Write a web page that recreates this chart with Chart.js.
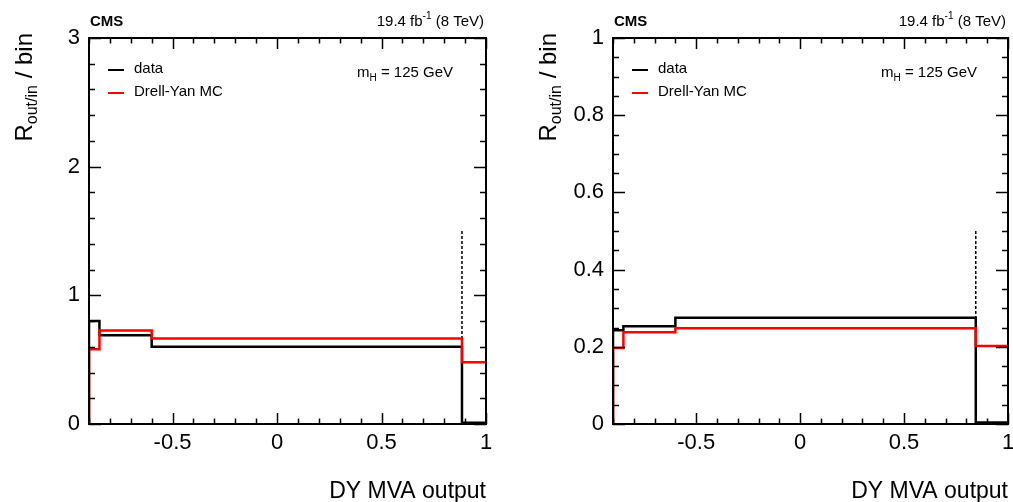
<!DOCTYPE html>
<html>
<head>
<meta charset="utf-8">
<script src="https://cdn.jsdelivr.net/npm/chart.js@4.4.1/dist/chart.umd.min.js"></script>
<style>
  body { margin: 0; background: #fff; }
  canvas { position: absolute; top: 0; }
</style>
</head>
<body>
<canvas id="left" width="506" height="502" style="left:0"></canvas>
<canvas id="right" width="507" height="502" style="left:506px"></canvas>
<script>
// bin edges and contents
var edgesLeft = [-0.9, -0.85, -0.6, 0.885, 1.0];
var dataLeft  = [0.80, 0.69, 0.60, 0.01];
var mcLeft    = [0.58, 0.727, 0.664, 0.48];

var edgesRight = [-0.9, -0.85, -0.6, 0.845, 1.0];
var dataRight  = [0.243, 0.253, 0.275, 0.004];
var mcRight    = [0.197, 0.238, 0.248, 0.202];

// dashed cut line: x position and height
var cutLeft  = [0.885, 1.5];
var cutRight = [0.845, 0.5];

var xTickLabels = [-0.5, 0, 0.5, 1];
var yRangeLeft  = [0, 3, 1];      // min, max, step
var yRangeRight = [0, 1, 0.2];

var FONT = "'Liberation Sans', Arial, Helvetica, sans-serif";
Chart.defaults.font.family = FONT;
Chart.defaults.color = '#000';

// histogram outline as step points
function steps(edges, vals) {
    var pts = [{ x: edges[0], y: 0 }];
    for (var i = 0; i < vals.length; i++) pts.push({ x: edges[i], y: vals[i] });
    pts.push({ x: edges[edges.length - 1], y: vals[vals.length - 1] });
    return pts;
}

// frame, inner ticks, legend and labels (ROOT look)
function deco(yMinorStep, yMajorStep) {
    return {
        id: 'deco',
        afterDraw: function (chart) {
            var c = chart.ctx, a = chart.chartArea;
            var xs = chart.scales.x, ys = chart.scales.y;
            c.save();
            c.strokeStyle = '#000';
            c.lineWidth = 1.5;
            c.beginPath();
            // x ticks every 0.1, major every 0.5
            for (var k = 0; k <= 19; k++) {
                var v = -0.9 + k * 0.1;
                var major = Math.abs(v * 2 - Math.round(v * 2)) < 1e-6;
                var L = major ? 11 : 5.5;
                var p = Math.round(xs.getPixelForValue(v)) + 0.5;
                c.moveTo(p, a.bottom); c.lineTo(p, a.bottom - L);
                c.moveTo(p, a.top); c.lineTo(p, a.top + L);
            }
            var n = Math.round((ys.max - ys.min) / yMinorStep);
            for (var j = 0; j <= n; j++) {
                var w = ys.min + j * yMinorStep;
                var r = w / yMajorStep;
                var maj = Math.abs(r - Math.round(r)) < 1e-6;
                var Ly = maj ? 12 : 6;
                var q = Math.round(ys.getPixelForValue(w)) + 0.5;
                c.moveTo(a.left, q); c.lineTo(a.left + Ly, q);
                c.moveTo(a.right, q); c.lineTo(a.right - Ly, q);
            }
            c.stroke();
            c.lineWidth = 2;
            c.strokeRect(a.left, a.top, a.right - a.left, a.bottom - a.top);

            c.fillStyle = '#000';
            c.textBaseline = 'alphabetic';
            // CMS label
            c.font = 'bold 15px ' + FONT;
            c.textAlign = 'left';
            c.fillText('CMS', a.left + 1, a.top - 12);
            // lumi label
            var t1 = '19.4 fb', t2 = '-1', t3 = ' (8 TeV)';
            c.font = '15px ' + FONT; var w1 = c.measureText(t1).width, w3 = c.measureText(t3).width;
            c.font = '10px ' + FONT; var w2 = c.measureText(t2).width;
            var x0 = a.right - 2 - w1 - w2 - w3;
            c.font = '15px ' + FONT; c.fillText(t1, x0, a.top - 12);
            c.font = '10px ' + FONT; c.fillText(t2, x0 + w1, a.top - 19);
            c.font = '15px ' + FONT; c.fillText(t3, x0 + w1 + w2, a.top - 12);

            // legend
            c.lineWidth = 2;
            c.strokeStyle = '#000';
            c.beginPath(); c.moveTo(a.left + 19, a.top + 32); c.lineTo(a.left + 35, a.top + 32); c.stroke();
            c.strokeStyle = '#ff0000';
            c.beginPath(); c.moveTo(a.left + 19, a.top + 55); c.lineTo(a.left + 35, a.top + 55); c.stroke();
            c.textBaseline = 'middle';
            c.font = '15px ' + FONT;
            c.fillText('data', a.left + 45, a.top + 31);
            c.fillText('Drell-Yan MC', a.left + 45, a.top + 54);

            // m_H label
            c.textBaseline = 'alphabetic';
            var mx = a.left + 268, my = a.top + 39;
            c.font = '15px ' + FONT; c.fillText('m', mx, my);
            var wm = c.measureText('m').width;
            c.font = '10px ' + FONT; c.fillText('H', mx + wm, my + 4);
            var wh = c.measureText('H').width;
            c.font = '15px ' + FONT; c.fillText(' = 125 GeV', mx + wm + wh, my);

            // y axis title, rotated
            c.translate(a.left - 57, a.top - 5);
            c.rotate(-Math.PI / 2);
            c.font = '24px ' + FONT; var wr = c.measureText('R').width, wb = c.measureText(' / bin').width;
            c.font = '16px ' + FONT; var ws = c.measureText('out/in').width;
            var sx = -(wr + ws + wb);
            c.font = '24px ' + FONT; c.fillText('R', sx, 0);
            c.font = '16px ' + FONT; c.fillText('out/in', sx + wr, 5);
            c.font = '24px ' + FONT; c.fillText(' / bin', sx + wr + ws, 0);
            c.restore();
        }
    };
}

function makeChart(id, edges, dataVals, mcVals, cut, yRange, yMinorStep, yAxisWidth, padRight) {
    return new Chart(document.getElementById(id).getContext('2d'), {
        type: 'scatter',
        data: {
            datasets: [{
                label: 'Drell-Yan MC',
                data: steps(edges, mcVals),
                showLine: true, stepped: 'before',
                borderColor: '#ff0000', borderWidth: 2.5,
                pointRadius: 0, order: 1
            }, {
                label: 'data',
                data: steps(edges, dataVals),
                showLine: true, stepped: 'before',
                borderColor: '#000', borderWidth: 2.5,
                pointRadius: 0, order: 2
            }, {
                label: 'cut',
                data: [{ x: cut[0], y: 0 }, { x: cut[0], y: cut[1] }],
                showLine: true,
                borderColor: '#000', borderWidth: 1.5, borderDash: [3, 2],
                pointRadius: 0, order: 3
            }]
        },
        options: {
            responsive: false,
            animation: false,
            devicePixelRatio: 1,
            layout: { padding: { top: 38, right: padRight, left: 0, bottom: 0 } },
            plugins: { legend: { display: false }, tooltip: { enabled: false } },
            scales: {
                x: {
                    type: 'linear', min: -0.9, max: 1,
                    grid: { display: false, drawTicks: false },
                    border: { display: false },
                    afterBuildTicks: function (s) { s.ticks = xTickLabels.map(function (v) { return { value: v }; }); },
                    afterFit: function (s) { s.height = 78; s.paddingLeft = 0; s.paddingRight = 0; },
                    ticks: { font: { size: 22 }, padding: 6, maxRotation: 0, autoSkip: false,
                             callback: function (v) { return String(v); } },
                    title: { display: true, text: 'DY MVA output', align: 'end',
                             font: { size: 23 }, padding: { top: 0, bottom: -3 } }
                },
                y: {
                    min: yRange[0], max: yRange[1],
                    grid: { display: false, drawTicks: false },
                    border: { display: false },
                    afterFit: function (s) { s.width = yAxisWidth; },
                    ticks: { stepSize: yRange[2], font: { size: 22 }, padding: 9,
                             callback: function (v) { return String(+v.toFixed(1)); } }
                }
            }
        },
        plugins: [deco(yMinorStep, yRange[2])]
    });
}

makeChart('left', edgesLeft, dataLeft, mcLeft, cutLeft, yRangeLeft, 0.2, 89, 20);
makeChart('right', edgesRight, dataRight, mcRight, cutRight, yRangeRight, 0.05, 107, 5);
</script>
</body>
</html>
